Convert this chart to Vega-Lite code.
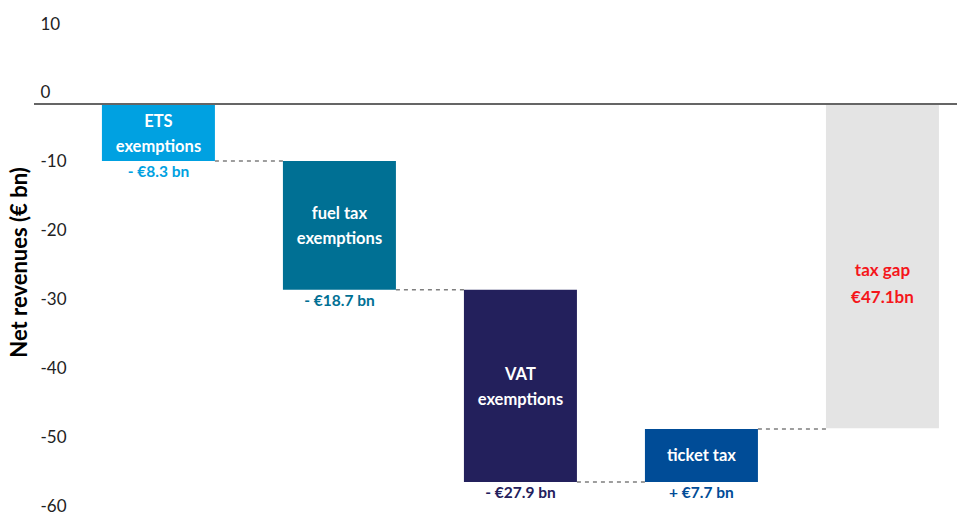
{
  "$schema": "https://vega.github.io/schema/vega-lite/v6.json",
  "width": 923,
  "height": 517,
  "autosize": {"type": "none"},
  "padding": {"left": 34, "top": 0, "right": 0, "bottom": 0},
  "background": "white",
  "config": {
    "view": {"stroke": null},
    "font": "Lato",
    "axisY": {"domain": false, "ticks": false, "grid": false,
      "labelAlign": "left", "labelPadding": -6, "labelBaseline": "alphabetic", "labelOffset": -6,
      "labelExpr": "'' + datum.value",
      "labelFontSize": 17, "labelColor": "#222222", "labelFont": "Lato", "labelFlush": false, "labelOverlap": false,
      "titleFontSize": 22, "titleFontWeight": "bold", "titleColor": "#000000", "titleFont": "Lato",
      "titleX": -15, "titleY": 262, "titleAlign": "center", "titleBaseline": "middle", "titleAngle": 270}
  },
  "datasets": {
    "bars": [
      {"cat": "ETS", "start": 0, "end": -8.3, "inner": "ETS\nexemptions", "below": "- €8.3 bn"},
      {"cat": "fuel", "start": -8.3, "end": -27.0, "inner": "fuel tax\nexemptions", "below": "- €18.7 bn"},
      {"cat": "VAT", "start": -27.0, "end": -54.9, "inner": "VAT\nexemptions", "below": "- €27.9 bn"},
      {"cat": "ticket", "start": -54.9, "end": -47.2, "inner": "ticket tax", "below": "+ €7.7 bn"},
      {"cat": "gap", "start": 0, "end": -47.1, "inner": "tax gap\n€47.1bn", "below": ""}
    ],
    "links": [
      {"from": "ETS", "to": "fuel", "level": -8.3},
      {"from": "fuel", "to": "VAT", "level": -27.0},
      {"from": "VAT", "to": "ticket", "level": -54.9},
      {"from": "ticket", "to": "gap", "level": -47.2}
    ]
  },
  "layer": [
    {
      "data": {"name": "bars"},
      "mark": {"type": "bar"},
      "encoding": {
        "x": {"field": "cat", "type": "nominal", "axis": null,
          "scale": {"type": "band", "domain": ["ETS", "fuel", "VAT", "ticket", "gap"], "paddingInner": 0.3757, "paddingOuter": 0.2375, "align": 0.79}},
        "y": {"field": "start", "type": "quantitative", "title": "Net revenues (€ bn)",
          "scale": {"domain": [-60, 15.1], "nice": false, "zero": false},
          "axis": {"values": [10, 0, -10, -20, -30, -40, -50, -60]}},
        "y2": {"field": "end"},
        "color": {"field": "cat", "type": "nominal", "legend": null,
          "scale": {"domain": ["ETS", "fuel", "VAT", "ticket", "gap"], "range": ["#00a1e1", "#007094", "#23205c", "#004c97", "#e4e4e4"]}}
      }
    },
    {
      "data": {"name": "links"},
      "mark": {"type": "rule", "strokeDash": [4, 4], "color": "#7f7f7f", "strokeWidth": 1.5},
      "encoding": {
        "x": {"field": "from", "type": "nominal", "bandPosition": 1},
        "x2": {"field": "to", "bandPosition": 0},
        "y": {"field": "level", "type": "quantitative", "title": "Net revenues (€ bn)", "axis": {"values": [10, 0, -10, -20, -30, -40, -50, -60]}}
      }
    },
    {
      "data": {"name": "bars"},
      "mark": {"type": "rule", "color": "#666666", "strokeWidth": 1.5},
      "encoding": {"y": {"datum": 0, "type": "quantitative", "title": "Net revenues (€ bn)", "axis": {"values": [10, 0, -10, -20, -30, -40, -50, -60]}}}
    },
    {
      "data": {"name": "bars"},
      "transform": [
        {"fold": ["start", "end"], "as": ["k", "v"]},
        {"aggregate": [{"op": "mean", "field": "v", "as": "mid"}, {"op": "min", "field": "v", "as": "low"}], "groupby": ["cat", "inner", "below"]},
        {"filter": "datum.cat !== 'gap' && datum.cat !== 'ticket'"}
      ],
      "mark": {"type": "text", "color": "white", "fontWeight": "bold", "fontSize": 16.5, "lineBreak": "\n", "lineHeight": 25, "baseline": "middle", "dy": -11},
      "encoding": {
        "x": {"field": "cat", "type": "nominal"},
        "y": {"field": "mid", "type": "quantitative", "title": "Net revenues (€ bn)", "axis": {"values": [10, 0, -10, -20, -30, -40, -50, -60]}},
        "text": {"field": "inner"}
      }
    },
    {
      "data": {"name": "bars"},
      "transform": [
        {"fold": ["start", "end"], "as": ["k", "v"]},
        {"aggregate": [{"op": "mean", "field": "v", "as": "mid"}, {"op": "min", "field": "v", "as": "low"}], "groupby": ["cat", "inner", "below"]},
        {"filter": "datum.cat === 'ticket'"}
      ],
      "mark": {"type": "text", "color": "white", "fontWeight": "bold", "fontSize": 16.5, "baseline": "middle", "dy": 1},
      "encoding": {
        "x": {"field": "cat", "type": "nominal"},
        "y": {"field": "mid", "type": "quantitative", "title": "Net revenues (€ bn)", "axis": {"values": [10, 0, -10, -20, -30, -40, -50, -60]}},
        "text": {"field": "inner"}
      }
    },
    {
      "data": {"name": "bars"},
      "transform": [
        {"fold": ["start", "end"], "as": ["k", "v"]},
        {"aggregate": [{"op": "mean", "field": "v", "as": "mid"}, {"op": "min", "field": "v", "as": "low"}], "groupby": ["cat", "inner", "below"]},
        {"filter": "datum.cat === 'gap'"}
      ],
      "mark": {"type": "text", "color": "#f5161b", "fontWeight": "bold", "fontSize": 17, "lineBreak": "\n", "lineHeight": 27, "baseline": "middle", "dy": 5},
      "encoding": {
        "x": {"field": "cat", "type": "nominal"},
        "y": {"field": "mid", "type": "quantitative", "title": "Net revenues (€ bn)", "axis": {"values": [10, 0, -10, -20, -30, -40, -50, -60]}},
        "text": {"field": "inner"}
      }
    },
    {
      "data": {"name": "bars"},
      "transform": [
        {"fold": ["start", "end"], "as": ["k", "v"]},
        {"aggregate": [{"op": "mean", "field": "v", "as": "mid"}, {"op": "min", "field": "v", "as": "low"}], "groupby": ["cat", "inner", "below"]},
        {"filter": "datum.below !== ''"}
      ],
      "mark": {"type": "text", "fontWeight": "bold", "fontSize": 15.5, "baseline": "top", "dy": 4},
      "encoding": {
        "x": {"field": "cat", "type": "nominal"},
        "y": {"field": "low", "type": "quantitative", "title": "Net revenues (€ bn)", "axis": {"values": [10, 0, -10, -20, -30, -40, -50, -60]}},
        "text": {"field": "below"},
        "color": {"field": "cat", "type": "nominal", "legend": null}
      }
    }
  ]
}
